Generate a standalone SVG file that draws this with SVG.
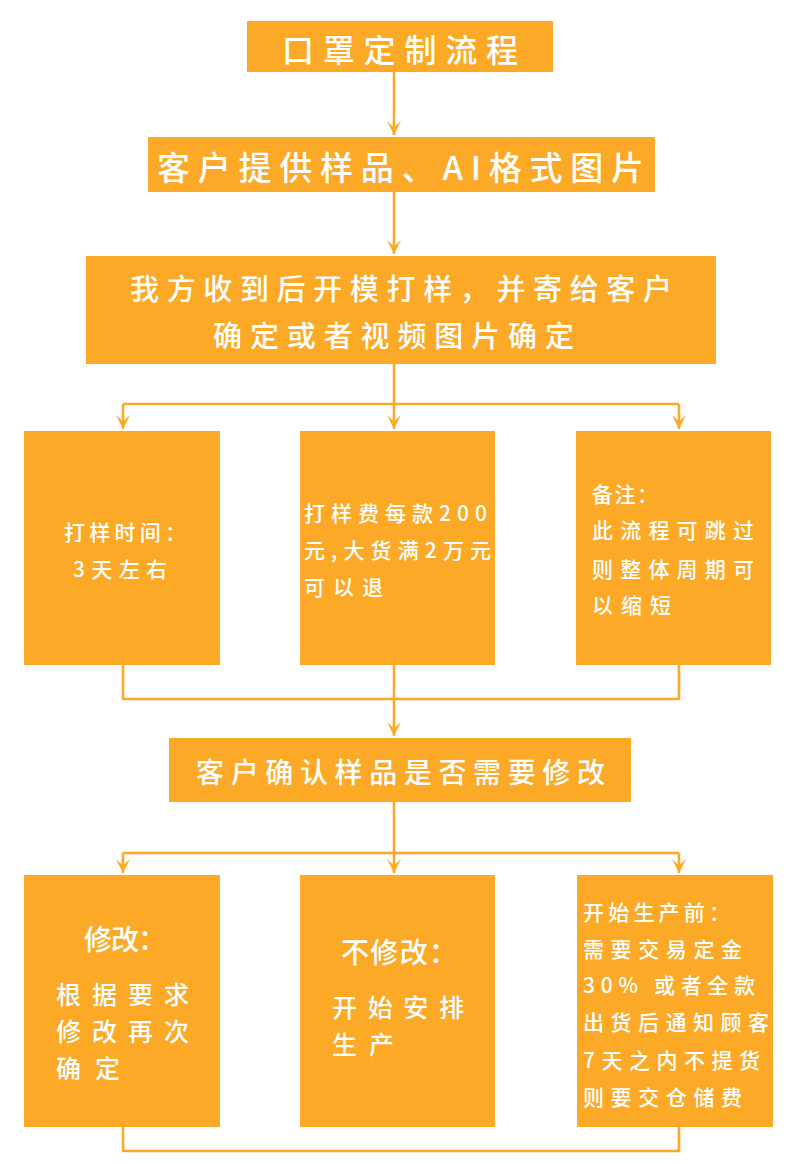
<svg xmlns="http://www.w3.org/2000/svg" width="800" height="1164" viewBox="0 0 800 1164">
<style>
.box{fill:#FBA926}
.t{fill:#FFFFFF;font-family:"Noto Sans CJK SC","Noto Sans",sans-serif;font-weight:500}
.w{fill:none;stroke:#FBA926;stroke-width:2.6}
</style>
<defs>
<marker id="ah" markerUnits="userSpaceOnUse" viewBox="-14 -8 16 16" refX="0" refY="0" markerWidth="16" markerHeight="16" orient="auto">
<path d="M0,0 L-14,-7 L-7.5,0 L-14,7 Z" fill="#FBA926"/>
</marker>
</defs>
<rect width="800" height="1164" fill="#FFFFFF"/>
<g id="connectors">
<path class="w" d="M394,72 V135" marker-end="url(#ah)"/>
<path class="w" d="M394,192 V254" marker-end="url(#ah)"/>
<path class="w" d="M394,364 V429" marker-end="url(#ah)"/>
<path class="w" d="M123,404 H679"/>
<path class="w" d="M123,404 V429" marker-end="url(#ah)"/>
<path class="w" d="M679,404 V429" marker-end="url(#ah)"/>
<path class="w" d="M123,665 V699 H679 V665"/>
<path class="w" d="M394,665 V736" marker-end="url(#ah)"/>
<path class="w" d="M394,802 V873" marker-end="url(#ah)"/>
<path class="w" d="M123,853 H679"/>
<path class="w" d="M123,853 V873" marker-end="url(#ah)"/>
<path class="w" d="M679,853 V873" marker-end="url(#ah)"/>
<path class="w" d="M123,1127 V1151 H679 V1127"/>
</g>
<g id="title">
<rect class="box" x="247" y="21" width="306" height="51"/>
<text class="t" x="282" y="62" font-size="32" textLength="236" lengthAdjust="spacing">口罩定制流程</text>
</g>
<g id="provide">
<rect class="box" x="148" y="137" width="507" height="55"/>
<text class="t" x="157" y="180" font-size="33" textLength="487" lengthAdjust="spacing">客户提供样品、AI格式图片</text>
</g>
<g id="sample">
<rect class="box" x="86" y="256" width="630" height="108"/>
<text class="t" x="130" y="300" font-size="29" textLength="542" lengthAdjust="spacing">我方收到后开模打样，并寄给客户</text>
<text class="t" x="213" y="347" font-size="29" textLength="361" lengthAdjust="spacing">确定或者视频图片确定</text>
</g>
<g id="time">
<rect class="box" x="24" y="431" width="196" height="234"/>
<text class="t" x="64" y="540" font-size="21" textLength="122" lengthAdjust="spacing">打样时间：</text>
<text class="t" x="73" y="577" font-size="21" textLength="94" lengthAdjust="spacing">3天左右</text>
</g>
<g id="fee">
<rect class="box" x="300" y="431" width="195" height="234"/>
<text class="t" x="304" y="521" font-size="21" textLength="183" lengthAdjust="spacing">打样费每款200</text>
<text class="t" x="304" y="558" font-size="21" textLength="187" lengthAdjust="spacing">元,大货满2万元</text>
<text class="t" x="304" y="595" font-size="21" textLength="79" lengthAdjust="spacing">可以退</text>
</g>
<g id="note">
<rect class="box" x="576" y="431" width="195" height="234"/>
<text class="t" x="592" y="502" font-size="21" textLength="66" lengthAdjust="spacing">备注：</text>
<text class="t" x="592" y="538" font-size="21" textLength="162" lengthAdjust="spacing">此流程可跳过</text>
<text class="t" x="592" y="577" font-size="21" textLength="162" lengthAdjust="spacing">则整体周期可</text>
<text class="t" x="592" y="613" font-size="21" textLength="79" lengthAdjust="spacing">以缩短</text>
</g>
<g id="confirm">
<rect class="box" x="169" y="738" width="462" height="64"/>
<text class="t" x="196" y="783" font-size="28" textLength="409" lengthAdjust="spacing">客户确认样品是否需要修改</text>
</g>
<g id="modify">
<rect class="box" x="24" y="875" width="196" height="252"/>
<text class="t" x="84" y="950" font-size="28" textLength="82" lengthAdjust="spacing">修改：</text>
<text class="t" x="56" y="1004" font-size="25" textLength="133" lengthAdjust="spacing">根据要求</text>
<text class="t" x="56" y="1041" font-size="25" textLength="133" lengthAdjust="spacing">修改再次</text>
<text class="t" x="56" y="1078" font-size="25" textLength="64" lengthAdjust="spacing">确定</text>
</g>
<g id="nomodify">
<rect class="box" x="300" y="875" width="195" height="252"/>
<text class="t" x="341" y="963" font-size="28" textLength="116" lengthAdjust="spacing">不修改：</text>
<text class="t" x="332" y="1017" font-size="25" textLength="132" lengthAdjust="spacing">开始安排</text>
<text class="t" x="332" y="1054" font-size="25" textLength="62" lengthAdjust="spacing">生产</text>
</g>
<g id="production">
<rect class="box" x="577" y="875" width="196" height="252"/>
<text class="t" x="583" y="920" font-size="21" textLength="147" lengthAdjust="spacing">开始生产前：</text>
<text class="t" x="583" y="957" font-size="21" textLength="159" lengthAdjust="spacing">需要交易定金</text>
<text class="t" x="583" y="993" font-size="21" textLength="172" lengthAdjust="spacing">30% 或者全款</text>
<text class="t" x="583" y="1030" font-size="21" textLength="186" lengthAdjust="spacing">出货后通知顾客</text>
<text class="t" x="583" y="1068" font-size="21" textLength="177" lengthAdjust="spacing">7天之内不提货</text>
<text class="t" x="583" y="1105" font-size="21" textLength="159" lengthAdjust="spacing">则要交仓储费</text>
</g>
</svg>
